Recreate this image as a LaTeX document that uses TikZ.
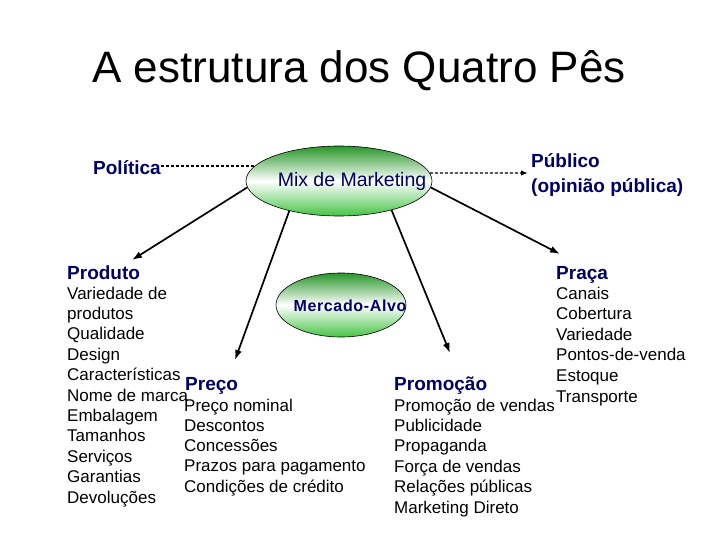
\documentclass[tikz,border=0pt]{standalone}
\usepackage{fontspec}
\setmainfont{Liberation Sans}
\usetikzlibrary{shapes.geometric,arrows.meta}
\definecolor{navy}{RGB}{0,0,102}
\definecolor{gtop}{RGB}{40,150,40}
\definecolor{gbot}{RGB}{70,195,70}
\tikzset{
  item/.style={anchor=base west, inner sep=0pt, font=\fontsize{17}{20}\selectfont},
  head/.style={anchor=base west, inner sep=0pt, text=navy, font=\fontsize{19}{22}\selectfont\bfseries},
  oval/.style={ellipse, draw=black, line width=0.6pt, inner sep=0pt, top color=gtop, bottom color=gbot, middle color=white},
  conn/.style={line width=1.7pt, -{Latex[length=10pt,width=7pt]}},
  dconn/.style={line width=1.4pt, dash pattern=on 3pt off 2pt},
}
\begin{document}
\begin{tikzpicture}[x=1pt,y=-1pt]
\useasboundingbox (0,0) rectangle (720,540);

% title
\node[anchor=base, inner sep=0pt, font=\fontsize{44}{50}\selectfont] (title) at (359,83) {A estrutura dos Quatro Pês};

% ellipses
\node[oval, minimum width=186pt, minimum height=70pt] (mix) at (339,181) {};
\node[anchor=base, inner sep=0pt, text=navy, font=\fontsize{19.5}{22}\selectfont] (mixt) at (352,187) {Mix de Marketing};
\node[oval, minimum width=130pt, minimum height=64pt] (alvo) at (341,305) {};
\node[anchor=base, inner sep=0pt, text=navy, font=\fontsize{16}{18}\selectfont\bfseries\addfontfeatures{LetterSpace=4}] (alvot) at (350,311) {Mercado-Alvo};

% top labels
\node[head] (pol) at (93,175) {Política};
\node[head] (pub1) at (531,168) {Público};
\node[head] (pub2) at (531,193) {(opinião pública)};

% headings
\node[head] (prod) at (67,279) {Produto};
\node[head] (praca) at (556,279) {Praça};
\node[head] (preco) at (185,390) {Preço};
\node[head] (promo) at (394,390) {Promoção};

% lists
\foreach \t [count=\i] in {Variedade de,produtos,Qualidade,Design,Características,Nome de marca,Embalagem,Tamanhos,Serviços,Garantias,Devoluções}
  \node[item] (prodi\i) at (67,{299+(\i-1)*20.4}) {\t};
\foreach \t [count=\i] in {Canais,Cobertura,Variedade,Pontos-de-venda,Estoque,Transporte}
  \node[item] (pracai\i) at (556,{299+(\i-1)*20.6}) {\t};
\foreach \t [count=\i] in {Preço nominal,Descontos,Concessões,Prazos para pagamento,Condições de crédito}
  \node[item] (precoi\i) at (184,{411+(\i-1)*20.25}) {\t};
\foreach \t [count=\i] in {Promoção de vendas,Publicidade,Propaganda,Força de vendas,Relações públicas,Marketing Direto}
  \node[item] (promoi\i) at (394,{411+(\i-1)*20.4}) {\t};

% arrow tips
\coordinate (tprod) at (132,260);
\coordinate (tpreco) at (235,360);
\coordinate (tpromo) at (450,353);
\coordinate (tpraca) at (560,254);
\coordinate (tpub) at (528,173);

% connectors
\draw[dconn] (pol.east |- mix.170) -- (mix.170);
\draw[dconn, -{Latex[length=7pt,width=5.5pt]}] (mix.5) -- (tpub);
\draw[conn] (mix.184) -- (tprod);
\draw[conn] (mix.211) -- (tpreco);
\draw[conn] (mix.331) -- (tpromo);
\draw[conn] (mix.356) -- (tpraca);
\end{tikzpicture}
\end{document}
